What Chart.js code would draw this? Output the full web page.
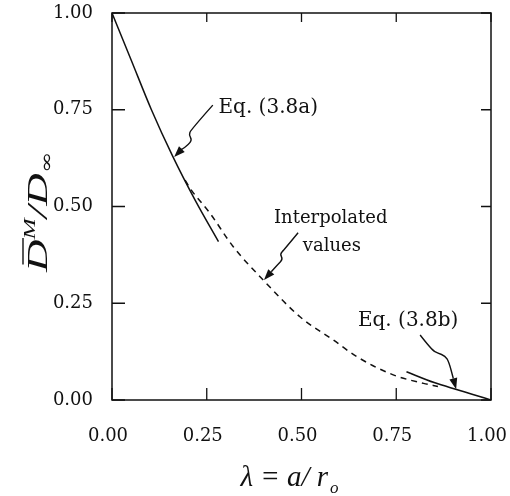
<!DOCTYPE html>
<html>
<head>
<meta charset="utf-8">
<script src="https://cdn.jsdelivr.net/npm/chart.js@4.4.0/dist/chart.umd.min.js"></script>
<style>
html,body{margin:0;padding:0;background:#fff;}
#wrap{width:510px;height:496px;position:relative;}
</style>
</head>
<body>
<div id="wrap"><canvas id="c" width="510" height="496"></canvas></div>
<script>
// ---- data ----
const lambdaA = [0, 0.05, 0.104, 0.16, 0.22, 0.281];
const dA      = [1.0, 0.88, 0.75, 0.63, 0.515, 0.409];
const lambdaI = [0.193, 0.206, 0.259, 0.32, 0.399, 0.496, 0.584, 0.646, 0.742, 0.822, 0.86];
const dI      = [0.568, 0.547, 0.482, 0.396, 0.310, 0.215, 0.155, 0.112, 0.065, 0.043, 0.035];
const lambdaB = [0.777, 0.85, 0.909, 0.95, 1.0];
const dB      = [0.073, 0.045, 0.027, 0.015, 0.0];
const tickValues = [0, 0.25, 0.5, 0.75, 1.0];
const labelA = "Eq. (3.8a)";
const labelI = ["Interpolated", "values"];
const labelB = "Eq. (3.8b)";

const toXY = (xs, ys) => xs.map((x, i) => ({x: x, y: ys[i]}));
const INK = '#111';

// annotation anchors in data units
const arrowA = [[0.266,0.762],[0.208,0.698],[0.203,0.685],[0.211,0.672],[0.201,0.659],[0.182,0.646],[0.164,0.628]];
const arrowI = [[0.491,0.432],[0.454,0.388],[0.443,0.377],[0.451,0.364],[0.438,0.351],[0.401,0.310]];
const arrowB = [[0.813,0.168],[0.844,0.129],[0.860,0.121],[0.879,0.114],[0.889,0.098],[0.908,0.028]];

function smoothPath(ctx, pts) {
  ctx.beginPath();
  ctx.moveTo(pts[0][0], pts[0][1]);
  for (let i = 1; i < pts.length - 1; i++) {
    const mx = (pts[i][0] + pts[i+1][0]) / 2, my = (pts[i][1] + pts[i+1][1]) / 2;
    ctx.quadraticCurveTo(pts[i][0], pts[i][1], mx, my);
  }
  const n = pts.length;
  ctx.lineTo(pts[n-1][0], pts[n-1][1]);
  ctx.stroke();
}
function arrow(ctx, xs, ys, data) {
  const pts = data.map(p => [xs.getPixelForValue(p[0]), ys.getPixelForValue(p[1])]);
  const n = pts.length;
  const tip = pts[n-1], prev = pts[n-2];
  const ang = Math.atan2(tip[1]-prev[1], tip[0]-prev[0]);
  const L = 11, W = 4;
  const bx = tip[0] - L*Math.cos(ang), by = tip[1] - L*Math.sin(ang);
  const line = pts.slice(0, n-1).concat([[bx, by]]);
  ctx.lineWidth = 1.4;
  smoothPath(ctx, line);
  ctx.beginPath();
  ctx.moveTo(tip[0], tip[1]);
  ctx.lineTo(bx + W*Math.sin(ang), by - W*Math.cos(ang));
  ctx.lineTo(bx - W*Math.sin(ang), by + W*Math.cos(ang));
  ctx.closePath();
  ctx.fill();
}

const decor = {
  id: 'decor',
  afterDatasetsDraw(chart) {
    const ctx = chart.ctx, a = chart.chartArea;
    const xs = chart.scales.x, ys = chart.scales.y;
    ctx.save();
    ctx.strokeStyle = INK; ctx.fillStyle = INK;
    // frame
    ctx.lineWidth = 1.5;
    ctx.strokeRect(a.left, a.top, a.right - a.left, a.bottom - a.top);
    // inward ticks
    ctx.lineWidth = 1.3;
    ctx.beginPath();
    tickValues.forEach(v => {
      const px = xs.getPixelForValue(v), py = ys.getPixelForValue(v);
      ctx.moveTo(px, a.bottom); ctx.lineTo(px, a.bottom - 12);
      ctx.moveTo(px, a.top); ctx.lineTo(px, a.top + 9);
      ctx.moveTo(a.left, py); ctx.lineTo(a.left + 13, py);
      ctx.moveTo(a.right, py); ctx.lineTo(a.right - 10, py);
    });
    ctx.stroke();

    // annotations
    arrow(ctx, xs, ys, arrowA);
    arrow(ctx, xs, ys, arrowI);
    arrow(ctx, xs, ys, arrowB);
    ctx.textBaseline = 'middle';
    ctx.font = '20px "DejaVu Serif"';
    ctx.textAlign = 'left';
    ctx.fillText(labelA, xs.getPixelForValue(0.281), ys.getPixelForValue(0.755));
    ctx.fillText(labelB, xs.getPixelForValue(0.649), ys.getPixelForValue(0.205));
    ctx.font = '18px "DejaVu Serif"';
    ctx.textAlign = 'center';
    ctx.fillText(labelI[0], xs.getPixelForValue(0.577), ys.getPixelForValue(0.470));
    ctx.fillText(labelI[1], xs.getPixelForValue(0.580), ys.getPixelForValue(0.396));

    // x axis title: λ = a/ r_o
    ctx.textAlign = 'left';
    ctx.textBaseline = 'alphabetic';
    const big = 'italic 29px "Liberation Serif"', small = 'italic 17px "Liberation Serif"';
    const mainT = 'λ = a/ r';
    ctx.font = big; const w1 = ctx.measureText(mainT).width;
    ctx.font = small; const w2 = ctx.measureText('o').width;
    const cx = (a.left + a.right) / 2 - 12;
    let x0 = cx - (w1 + w2 + 2) / 2;
    const base = 486;
    ctx.font = big; ctx.fillText(mainT, x0, base);
    ctx.font = small; ctx.fillText('o', x0 + w1 + 2, base + 7);

    // y axis title: D̄^M / D_∞ (rotated, stretched along its length like the scan)
    ctx.translate(47, 212);
    ctx.rotate(-Math.PI / 2);
    ctx.scale(1.5, 1);
    const fBig = 'italic 30px "Liberation Serif"', fSm = 'italic 17px "Liberation Serif"', fInf = '17px "DejaVu Serif"';
    const parts = [
      {t: 'D', f: fBig, dy: 0, bar: true},
      {t: 'M', f: fSm, dy: -12},
      {t: '/', f: fBig, dy: 0},
      {t: 'D', f: fBig, dy: 0},
      {t: '∞', f: fInf, dy: 5}
    ];
    let tot = 0;
    parts.forEach(p => { ctx.font = p.f; p.w = ctx.measureText(p.t).width; tot += p.w; });
    let px = -tot / 2;
    parts.forEach(p => {
      ctx.font = p.f;
      ctx.fillText(p.t, px, p.dy);
      if (p.bar) {
        ctx.lineWidth = 1.4;
        ctx.beginPath(); ctx.moveTo(px + 5, -24); ctx.lineTo(px + p.w + 1, -24); ctx.stroke();
      }
      px += p.w;
    });
    ctx.restore();
  }
};

const zeroPad = s => { s.paddingTop = 0; s.paddingBottom = 0; s.paddingLeft = 0; s.paddingRight = 0; };

new Chart(document.getElementById('c'), {
  type: 'line',
  data: {
    datasets: [
      {label: labelA, data: toXY(lambdaA, dA), borderColor: INK, borderWidth: 1.5, pointRadius: 0, cubicInterpolationMode: 'monotone', fill: false},
      {label: 'Interpolated values', data: toXY(lambdaI, dI), borderColor: INK, borderWidth: 1.5, borderDash: [6, 5], pointRadius: 0, cubicInterpolationMode: 'monotone', fill: false},
      {label: labelB, data: toXY(lambdaB, dB), borderColor: INK, borderWidth: 1.6, pointRadius: 0, cubicInterpolationMode: 'monotone', fill: false}
    ]
  },
  options: {
    responsive: false,
    animation: false,
    devicePixelRatio: 1,
    layout: {padding: {top: 13, right: 19, left: 0, bottom: 0}},
    plugins: {legend: {display: false}, tooltip: {enabled: false}},
    scales: {
      x: {
        type: 'linear', min: 0, max: 1,
        afterBuildTicks: s => { s.ticks = tickValues.map(v => ({value: v})); },
        afterFit: s => { s.height = 96; zeroPad(s); },
        grid: {display: false, drawTicks: false},
        border: {display: false},
        ticks: {padding: 26, labelOffset: -4, color: INK, font: {family: '"DejaVu Serif"', size: 18}, callback: v => Number(v).toFixed(2), maxRotation: 0}
      },
      y: {
        type: 'linear', min: 0, max: 1,
        afterBuildTicks: s => { s.ticks = tickValues.map(v => ({value: v})); },
        afterFit: s => { s.width = 112; zeroPad(s); },
        grid: {display: false, drawTicks: false},
        border: {display: false},
        ticks: {padding: 19, color: INK, font: {family: '"DejaVu Serif"', size: 18}, callback: v => Number(v).toFixed(2)}
      }
    }
  },
  plugins: [decor]
});
</script>
</body>
</html>
